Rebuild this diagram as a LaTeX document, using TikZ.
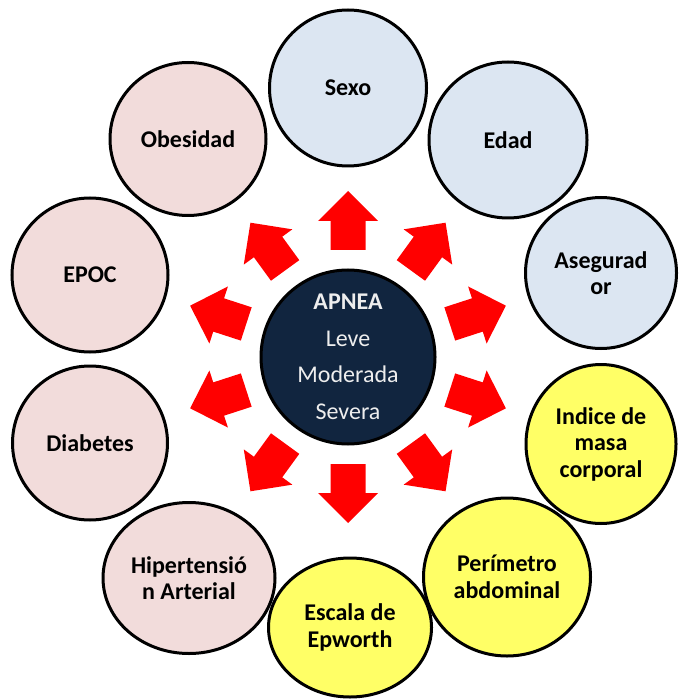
\documentclass[tikz,border=0pt]{standalone}
\usepackage{fontspec}
\setmainfont{Carlito}
\usetikzlibrary{shapes.geometric}
\definecolor{pinkf}{HTML}{F2DCDB}
\definecolor{bluef}{HTML}{DCE6F2}
\definecolor{yellowf}{HTML}{FFFF66}
\definecolor{navyf}{HTML}{11253F}
\definecolor{lightt}{HTML}{EEEEEE}
\definecolor{arrowred}{HTML}{FF0000}
\begin{document}
\begin{tikzpicture}[x=1pt,y=1pt,
  factor/.style={ellipse, draw=black, line width=3pt, inner sep=0pt,
    align=center, font=\fontsize{24}{26.5}\selectfont\bfseries},
  sz/.style n args={2}{minimum width=#1pt, minimum height=#2pt},
  pinkc/.style={factor, fill=pinkf},
  bluec/.style={factor, fill=bluef},
  yellowc/.style={factor, fill=yellowf},
  hub/.style={circle, draw=black, line width=3pt, minimum size=174pt, inner sep=0pt,
    fill=navyf, text=lightt, align=center, font=\fontsize{24}{36.5}\selectfont},
  blockarrow/.style={fill=arrowred, draw=none}
]
\useasboundingbox (0,0) rectangle (678,-700);
\coordinate (c) at (348,-357);

% arrows
\foreach \a in {90,54,18,-18,-54,-90,-126,-162,162,126} {
  \begin{scope}[shift={(c)}, rotate=\a-90]
    \fill[blockarrow] (-17.5,107) -- (17.5,107) -- (17.5,136) -- (30,136) -- (0,166)
      -- (-30,136) -- (-17.5,136) -- cycle;
  \end{scope}
}

% outer circles
\node[bluec,   sz={157}{156}] (sexo)  at (348,-88)    {Sexo};
\node[bluec,   sz={158}{156}] (edad)  at (508,-140)   {Edad};
\node[bluec,   sz={151}{151}] (aseg)  at (601,-273)   {Asegurad\\or};
\node[yellowc, sz={150}{159}] (imc)   at (601,-444)   {Indice de\\masa\\corporal};
\node[yellowc, sz={167}{158}] (perim) at (507,-577)   {Perímetro\\abdominal};
\node[pinkc,   sz={172}{151}] (hta)   at (189,-578)   {Hipertensió\\n Arterial};
\node[pinkc,   sz={155}{154}] (diab)  at (90,-443)    {Diabetes};
\node[pinkc,   sz={156}{154}] (epoc)  at (90,-275)    {EPOC};
\node[pinkc,   sz={156}{153}] (obes)  at (188,-139)   {Obesidad};
\node[yellowc, sz={163}{139}] (epw)   at (350,-627.5) {Escala de\\Epworth};

% hub
\node[hub] (apnea) at (c) {\textbf{APNEA}\\Leve\\Moderada\\Severa};
\end{tikzpicture}
\end{document}
